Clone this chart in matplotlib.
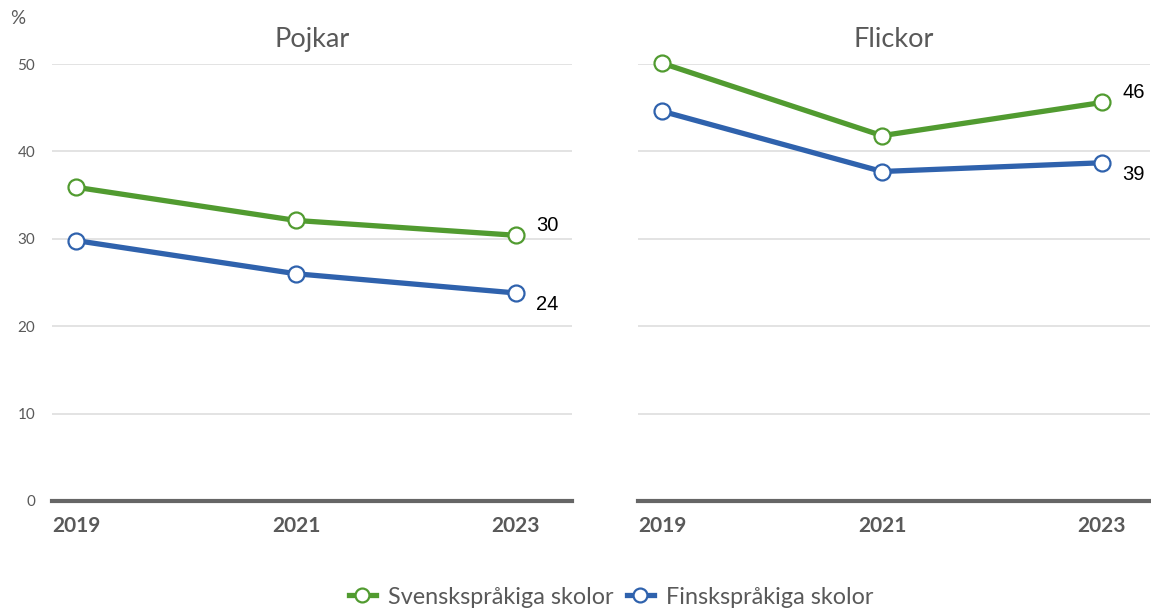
import matplotlib.pyplot as plt
from matplotlib.lines import Line2D

#---DATA---
years = [2019, 2021, 2023]
panels = ['Pojkar', 'Flickor']
series_names = ['Svenskspråkiga skolor', 'Finskspråkiga skolor']
# values per panel, per series
pojkar_sv = [35.9, 32.1, 30.4]
pojkar_fi = [29.8, 26.0, 23.8]
flickor_sv = [50.1, 41.8, 45.6]
flickor_fi = [44.6, 37.7, 38.7]
yticks = [0, 10, 20, 30, 40, 50]

#---STYLE---
colors = {'green': '#519B30', 'blue': '#2F62AD', 'text': '#595959',
          'grid': '#DEDEDE', 'axis': '#666666'}
ui_font = 'Lato'
num_font = 'Liberation Sans'

fig = plt.figure(figsize=(11.51, 6.14), dpi=100)
W, H = 1151, 614

# axes boxes in pixels: (left, right)
boxes = [(52, 572), (638, 1150)]
bottom_px, top_px = 501, 64
right_pad = [56, 48]

data = {'Pojkar': (pojkar_sv, pojkar_fi), 'Flickor': (flickor_sv, flickor_fi)}

for i, name in enumerate(panels):
	l, r = boxes[i]
	ax = fig.add_axes([l / W, 1 - bottom_px / H, (r - l) / W, (bottom_px - top_px) / H])
	ppy = 110.0  # pixels per one year
	ax.set_xlim(2019 - 24 / ppy, 2023 + right_pad[i] / ppy)
	ax.set_ylim(0, 50)

	# grid
	for t in yticks[1:]:
		ax.axhline(t, color=colors['grid'], linewidth=1.2, zorder=1)
	ax.axhline(0, color=colors['axis'], linewidth=3, zorder=2, clip_on=False)

	sv, fi = data[name]
	for vals, c, lbl_dy in [(sv, colors['green'], 9.5), (fi, colors['blue'], -11.5)]:
		ax.plot(years, vals, color=c, linewidth=3.8, solid_capstyle='round',
			marker='o', markersize=11.5, markerfacecolor='white',
			markeredgecolor=c, markeredgewidth=1.6, zorder=3, clip_on=False)
		ax.annotate(f"{vals[-1]:.0f}", xy=(years[-1], vals[-1]),
			xytext=(14.5, lbl_dy * 0.72), textcoords='offset points',
			ha='left', va='center', fontsize=14.5, family=num_font, color='black')

	for pos in ['right', 'top', 'bottom', 'left']:
		ax.spines[pos].set_visible(False)

	ax.set_xticks(years)
	ax.set_xticklabels([str(y) for y in years], fontsize=15, fontweight='bold',
		family=ui_font, color=colors['text'])
	ax.tick_params(axis='x', length=0, pad=11)
	if i == 0:
		ax.set_yticks(yticks)
		ax.set_yticklabels([str(t) for t in yticks], fontsize=11, family=ui_font,
			color=colors['text'])
		ax.tick_params(axis='y', length=0, pad=12)
	else:
		ax.set_yticks([])

	ax.set_title(name, fontsize=19.5, family=ui_font, color=colors['text'], pad=12)

fig.text(10 / W, 1 - 19 / H, '%', fontsize=13.5, family=ui_font, color=colors['text'],
	ha='left', va='center')

handles = [Line2D([], [], color=colors['green'], linewidth=3.8, marker='o', markersize=10,
			markerfacecolor='white', markeredgecolor=colors['green'], markeredgewidth=1.6),
		Line2D([], [], color=colors['blue'], linewidth=3.8, marker='o', markersize=10,
			markerfacecolor='white', markeredgecolor=colors['blue'], markeredgewidth=1.6)]
leg = fig.legend(handles, series_names, loc='center', bbox_to_anchor=(611 / W, 1 - 597 / H),
	ncol=2, frameon=False, handlelength=1.15, handletextpad=0.5, columnspacing=0.6,
	prop={'family': ui_font, 'size': 16.8})
for t in leg.get_texts():
	t.set_color(colors['text'])

plt.savefig('out.png', dpi=100)
